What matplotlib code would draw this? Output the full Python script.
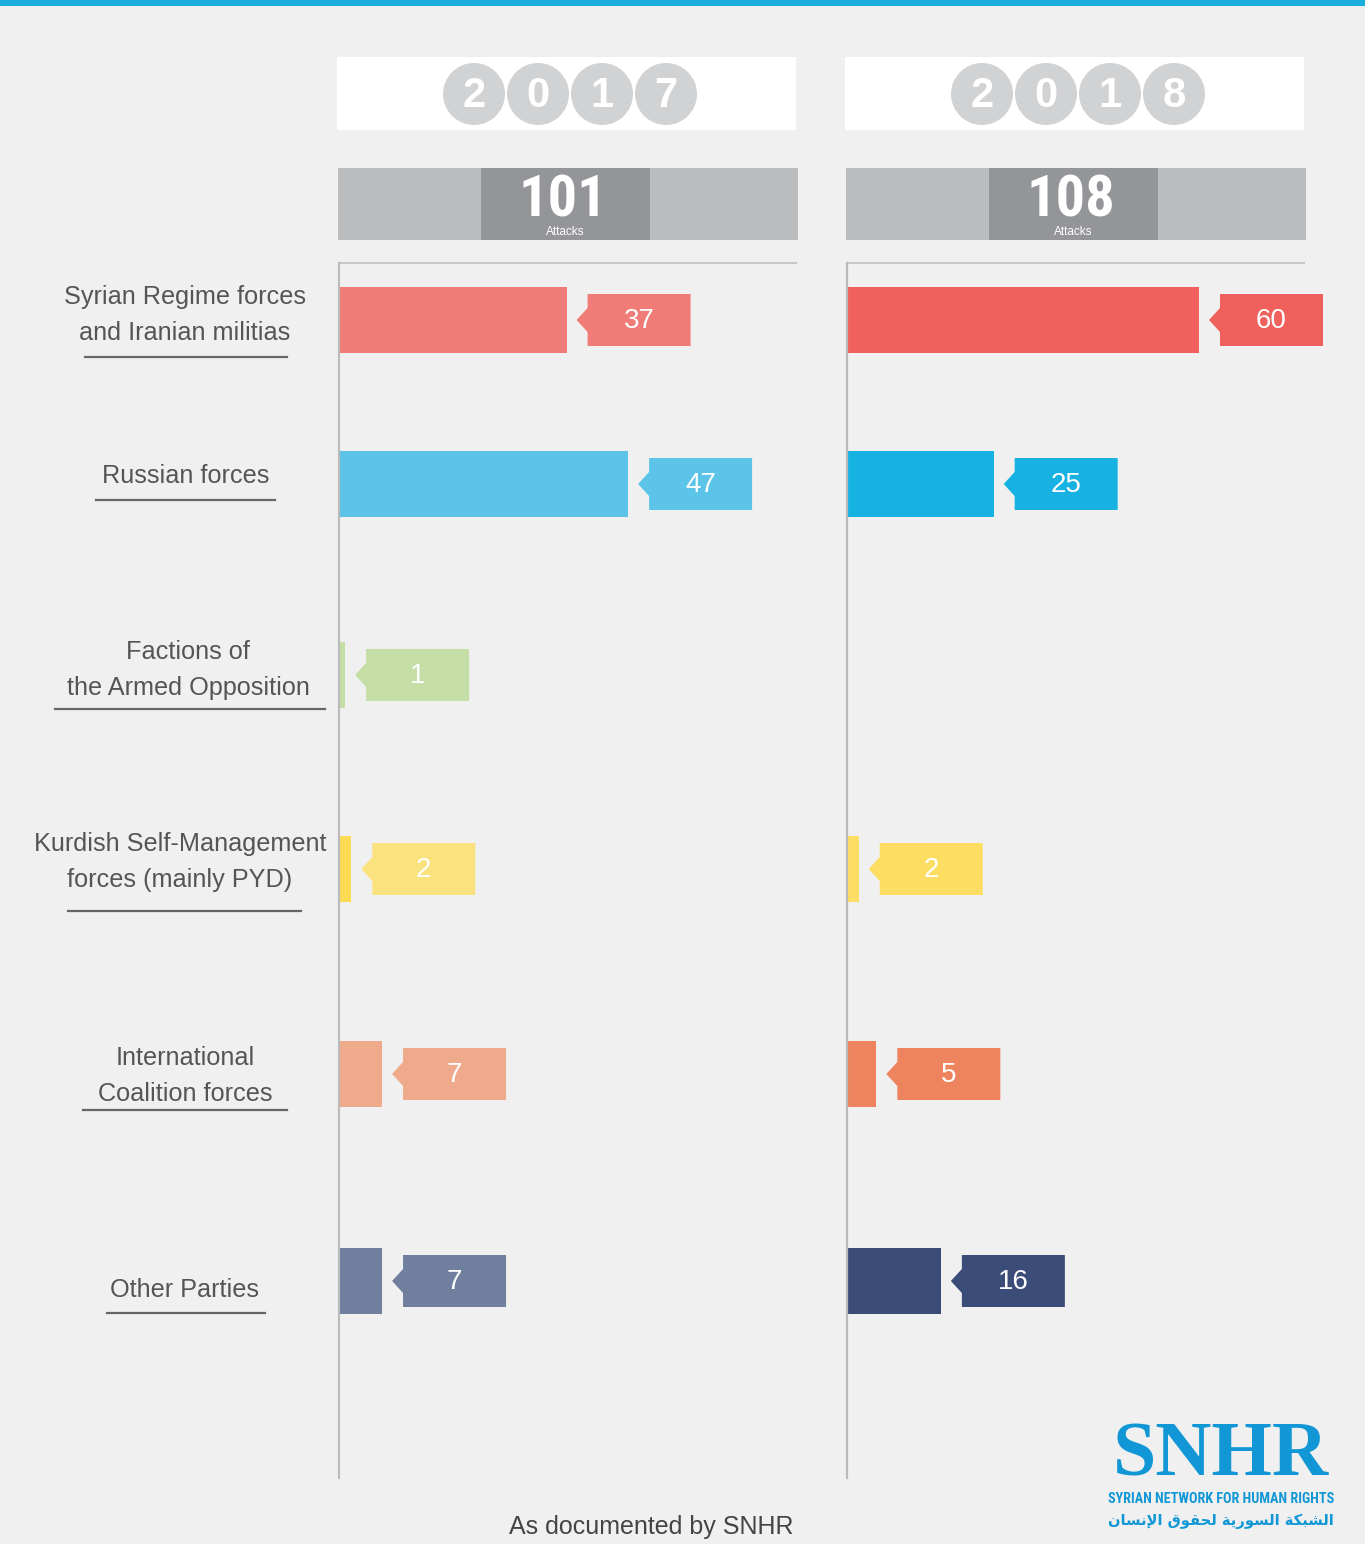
import matplotlib
matplotlib.use("Agg")
import matplotlib.pyplot as plt
import matplotlib.transforms as mtransforms
from matplotlib import font_manager
from matplotlib.patches import Polygon, Rectangle, Circle

# ---------------- data
parties = ["Syrian Regime forces\nand Iranian militias",
           "Russian forces",
           "Factions of\nthe Armed Opposition",
           "Kurdish Self-Management\nforces (mainly PYD)",
           "International\nCoalition forces",
           "Other Parties"]
years = ["2017", "2018"]
attacks_2017 = [37, 47, 1, 2, 7, 7]
attacks_2018 = [60, 25, 0, 2, 5, 16]
totals = [101, 108]

# ---------------- styles / layout (pixels on a 1365x1544 canvas)
colors_2017 = ["#F07C78", "#5BC4E8", "#C4DEA6", "#FDDB55", "#EFA98B", "#717F9F"]
colors_2018 = ["#F0605C", "#18B2E2", "#C4DEA6", "#FDDE63", "#EE845E", "#3C4C78"]
box_2017 = ["#F07C78", "#5BC4E8", "#C4DEA6", "#FAE27F", "#EFA98B", "#717F9F"]
box_2018 = ["#F0605C", "#18B2E2", "#C4DEA6", "#FDDE63", "#EE845E", "#3C4C78"]
row_y = [320, 484, 675, 869, 1074, 1281]       # row centres
label_x = [185, 186, 188, 180, 185, 185]
label_y = [315, 476, 670, 862, 1076, 1290]
underline = [(85, 287, 357), (96, 275, 500), (55, 325, 709),
             (68, 301, 911), (83, 287, 1110), (107, 265, 1313)]
panel_x = [339, 847]
panel_w = 457
xmax = [74.3, 77.9]
BG = "#F0F0F0"
W, H = 1365, 1544

installed = {f.name for f in font_manager.fontManager.ttflist}
narrow_pick = [n for n in ["Roboto Condensed", "Liberation Sans Narrow",
                           "DejaVu Sans Condensed", "Open Sans Condensed"]
               if n in installed]
sans = ["Liberation Sans", "DejaVu Sans"]
if narrow_pick:
    narrow = [narrow_pick[0], "DejaVu Sans"]
    total_size, total_y = 42, 201
else:
    narrow = ["Liberation Sans", "DejaVu Sans"]
    total_size, total_y = 33, 199

fig = plt.figure(figsize=(W / 100, H / 100), dpi=100)
fig.patch.set_facecolor(BG)

# overlay axes in pixel coordinates (y downwards)
bg = fig.add_axes([0, 0, 1, 1])
bg.set_xlim(0, W)
bg.set_ylim(H, 0)
bg.axis("off")
bg.set_facecolor(BG)

bg.add_patch(Rectangle((0, 0), W, 6, color="#1BAFE0", lw=0))

# left category labels
for lab, lx, ly, (x0, x1, uy) in zip(parties, label_x, label_y, underline):
    bg.text(lx, ly, lab, ha="center", va="center", fontsize=18.2,
            color="#555555", family=sans, linespacing=1.62)
    bg.plot([x0, x1], [uy, uy], color="#666666", lw=1.6)

for i, yr in enumerate(years):
    px = panel_x[i]
    # year header
    bg.add_patch(Rectangle((px - 2, 57), 459, 73, color="white", lw=0))
    cx0 = px + 135
    for k, d in enumerate(yr):
        cx = cx0 + k * 64
        bg.add_patch(Circle((cx, 94), 31, color="#D1D2D4", lw=0))
        bg.text(cx, 96, d, ha="center", va="center", fontsize=30,
                fontweight="bold", color="white", family=sans)
    # totals band
    bg.add_patch(Rectangle((px - 1, 168), 460, 72, color="#BBBCBE", lw=0))
    bg.add_patch(Rectangle((px + 142, 168), 169, 72, color="#949599", lw=0))
    bg.text(px + 224, total_y, str(totals[i]), ha="center", va="center",
            fontsize=total_size, fontweight="bold", color="white", family=narrow)
    bg.text(px + 226, 232, "Attacks", ha="center", va="center",
            fontsize=8.5, color="white", family=sans)
    # panel frame line
    bg.plot([px, px + 457], [263, 263], color="#C8C8C8", lw=1.5)

# bar panels
for i, (vals, cols, bcols) in enumerate([(attacks_2017, colors_2017, box_2017),
                                         (attacks_2018, colors_2018, box_2018)]):
    px = panel_x[i]
    ax = fig.add_axes([px / W, 1 - 1478 / H, panel_w / W, (1478 - 263) / H])
    ax.set_xlim(0, xmax[i])
    ax.set_ylim(1478, 263)
    ax.axis("off")
    ax.patch.set_alpha(0)
    ax.barh(row_y, vals, height=66, color=cols, lw=0)
    ax.plot([0, 0], [263, 1478], color="#BBBBBB", lw=1.6, clip_on=False)
    for v, y, c in zip(vals, row_y, bcols):
        if v == 0:
            continue
        gap, bw, bh = 21, 103, 52
        tip = gap - 11
        verts = [(tip, 0), (gap, 12), (gap, bh / 2), (gap + bw, bh / 2),
                 (gap + bw, -bh / 2), (gap, -bh / 2), (gap, -12)]
        tr = mtransforms.Affine2D() + mtransforms.ScaledTranslation(v, y, ax.transData)
        ax.add_patch(Polygon(verts, closed=True, color=c, lw=0,
                             transform=tr, clip_on=False))
        ax.annotate(str(v), xy=(v, y), xytext=(gap + bw / 2, -1),
                    textcoords="offset pixels", ha="center", va="center",
                    fontsize=20, color="white", family=sans)

# footer
bg.text(651, 1527, "As documented by SNHR", ha="center", va="center",
        fontsize=18, color="#444444", family=sans)

# logo
blue = "#1197D5"
bg.text(1221, 1457, "SNHR", ha="center", va="center", fontsize=56,
        fontweight="bold", color=blue, family=["Liberation Serif", "DejaVu Serif"])
bg.text(1221, 1499, "SYRIAN NETWORK FOR HUMAN RIGHTS", ha="center", va="center",
        fontsize=10.2, fontweight="bold", color=blue, family=narrow)
arabic = ("\uFEE5\uFE8E\uFEB4\uFEE7\uFEF9\uFE8D "
          "\uFED5\uFEEE\uFED8\uFEA4\uFEDF "
          "\uFE94\uFEF3\uFEAD\uFEEE\uFEB4\uFEDF\uFE8D "
          "\uFE94\uFEDC\uFE92\uFEB8\uFEDF\uFE8D")
bg.text(1221, 1521, arabic, ha="center", va="center", fontsize=10.6,
        fontweight="bold", color=blue, family=["DejaVu Sans"])

fig.savefig("out.png", dpi=100, facecolor=BG)
